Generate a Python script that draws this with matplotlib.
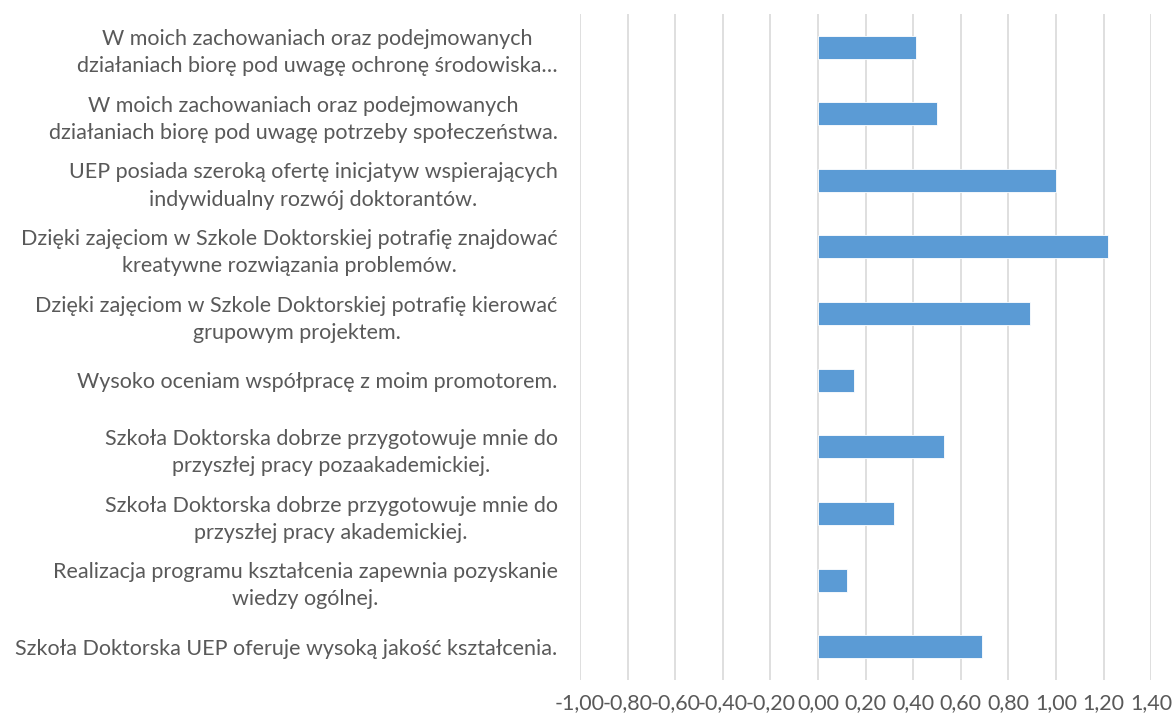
import matplotlib
matplotlib.use("Agg")
import matplotlib.pyplot as plt
from matplotlib.ticker import FuncFormatter, MultipleLocator

# categories listed top to bottom, as in the chart
categories = [
    "W moich zachowaniach oraz podejmowanych\ndziałaniach biorę pod uwagę ochronę środowiska…",
    "W moich zachowaniach oraz podejmowanych\ndziałaniach biorę pod uwagę potrzeby społeczeństwa.",
    "UEP posiada szeroką ofertę inicjatyw wspierających\nindywidualny rozwój doktorantów.",
    "Dzięki zajęciom w Szkole Doktorskiej potrafię znajdować\nkreatywne rozwiązania problemów.",
    "Dzięki zajęciom w Szkole Doktorskiej potrafię kierować\ngrupowym projektem.",
    "Wysoko oceniam współpracę z moim promotorem.",
    "Szkoła Doktorska dobrze przygotowuje mnie do\nprzyszłej pracy pozaakademickiej.",
    "Szkoła Doktorska dobrze przygotowuje mnie do\nprzyszłej pracy akademickiej.",
    "Realizacja programu kształcenia zapewnia pozyskanie\nwiedzy ogólnej.",
    "Szkoła Doktorska UEP oferuje wysoką jakość kształcenia.",
]
values = [0.41, 0.50, 1.00, 1.22, 0.89, 0.15, 0.53, 0.32, 0.12, 0.69]

plt.rcParams["font.family"] = ["Lato", "DejaVu Sans"]
text_color = "#595959"

fig = plt.figure(figsize=(11.74, 7.22), dpi=100)
ax = fig.add_axes([0.494, 0.058, 0.4866, 0.923])

ypos = list(range(len(categories)))
ax.barh(ypos, values, height=0.345, color="#5b9bd5", edgecolor="white", linewidth=0.6, zorder=3)

ax.set_xlim(-1.0, 1.4)
ax.set_ylim(len(categories) - 0.5, -0.5)
ax.xaxis.set_major_locator(MultipleLocator(0.2))
ax.xaxis.set_major_formatter(FuncFormatter(lambda v, p: f"{v:.2f}".replace(".", ",").replace("-0,00", "0,00")))
ax.grid(axis="x", color="#d9d9d9", linewidth=1.2, zorder=0)

ax.set_yticks(ypos)
ax.set_yticklabels(categories)
for lbl in ax.get_yticklabels():
    lbl.set_multialignment("center")
    lbl.set_linespacing(1.45)
ax.tick_params(axis="y", length=0, pad=16, labelsize=15.5, labelcolor=text_color)
ax.tick_params(axis="x", length=0, pad=9, labelsize=15.5, labelcolor=text_color)

for s in ax.spines.values():
    s.set_visible(False)

fig.savefig("out.png", dpi=100)
